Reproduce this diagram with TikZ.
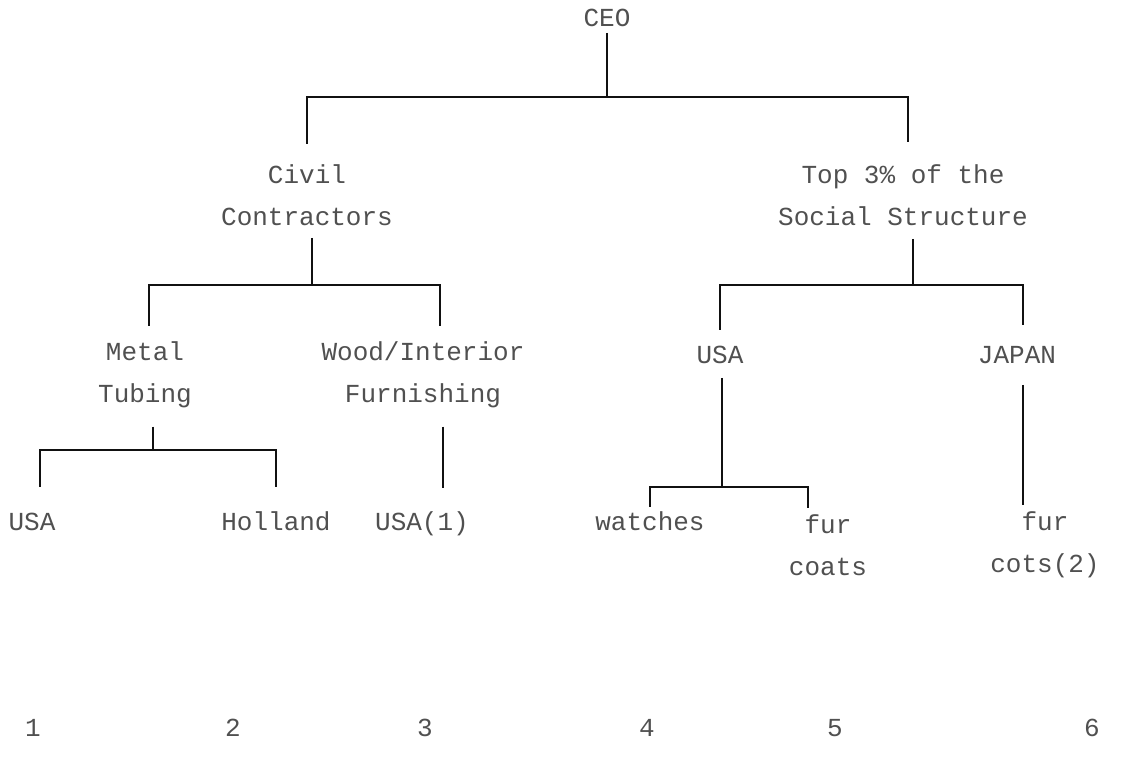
\documentclass[tikz,border=0pt]{standalone}
\usepackage{fontspec}
\usepackage{xcolor}
\usepackage{tikz}
\usetikzlibrary{positioning,calc}
\newfontfamily\chartfont{Liberation Mono}
\definecolor{ocInk}{HTML}{111111}
\definecolor{ocText}{HTML}{505050}
\tikzset{
  % Unit label (plain text, no frame)
  unit/.style={align=center,inner sep=2pt,
    font=\chartfont\fontsize{13}{21}\selectfont,text=ocText},
  % One-line unit, fixed box so rows line up
  unitrow/.style={unit,text height=8.6pt,text depth=0pt},
  % Column number along the bottom
  num/.style={inner sep=2pt,text height=8.6pt,text depth=0pt,
    font=\chartfont\fontsize{13}{21}\selectfont,text=ocText},
  % Connector lines
  wire/.style={draw=ocInk,line width=1pt},
}

\begin{document}
\begin{tikzpicture}[x=0.5pt,y=-0.5pt]
  \useasboundingbox (0,0) rectangle (1148,758);

  % Units
  \node[unitrow] (ceo) at (607,18) {CEO};
  \node[unit] (civil) at (307,195) {Civil\\Contractors};
  \node[unit] (top) at (903,195) {Top 3\% of the\\Social Structure};
  \node[unit] (metal) at (145,375) {Metal\\Tubing};
  \node[unit] (wood) at (423,375) {Wood/Interior\\Furnishing};
  \node[unitrow] (usaB) at (720,355) {USA};
  \node[unitrow] (japan) at (1017,355) {JAPAN};

  % Leaves
  \node[unitrow] (usaA) at (32,522) {USA};
  \node[unitrow] (holland) at (276,522) {Holland};
  \node[unitrow] (usaC) at (422,522) {USA(1)};
  \node[unitrow] (watches) at (650,522) {watches};
  \node[unit] (furcoats) at (828,545) {fur\\coats};
  \node[unit] (furcots) at (1045,545) {fur\\cots(2)};

  % Column numbers
  \foreach \n/\x in {1/33,2/233,3/425,4/647,5/835,6/1092}
    \node[num] (n\n) at (\x,728) {\n};

  % Junctions
  \coordinate (jceo) at (607,97);
  \coordinate (jciv) at (312,285);
  \coordinate (jtop) at (913,285);
  \coordinate (jmet) at (153,450);
  \coordinate (jusa) at (722,487);

  % CEO level
  \draw[wire,shorten <=1pt] (ceo.south) -- (jceo);
  \draw[wire,shorten >=8pt] (jceo) -| (civil.north);
  \draw[wire,shorten >=9pt] (jceo) -| ([xshift=2.5pt]top.north);

  % Civil Contractors
  \draw[wire,shorten <=4pt] (civil.south -| jciv) -- (jciv);
  \draw[wire,shorten >=5.5pt] (jciv) -| ([xshift=2pt]metal.north);
  \draw[wire,shorten >=5.5pt] (jciv) -| ([xshift=8.5pt]wood.north);
  \draw[wire,shorten <=7pt] (metal.south -| jmet) -- (jmet);
  \draw[wire,shorten >=11pt] (jmet) -| ([xshift=4pt]usaA.north);
  \draw[wire,shorten >=11pt] (jmet) -| (holland.north);
  \draw[wire,shorten <=7pt,shorten >=10.5pt]
    ([xshift=10pt]wood.south) -- ([xshift=10.5pt]usaC.north);

  % Top 3% of the Social Structure
  \draw[wire,shorten <=4.5pt] (top.south -| jtop) -- (jtop);
  \draw[wire,shorten >=6pt] (jtop) -| (usaB.north);
  \draw[wire,shorten >=8.5pt] (jtop) -| ([xshift=3pt]japan.north);
  \draw[wire,shorten <=5pt] (usaB.south -| jusa) -- (jusa);
  \draw[wire,shorten >=1pt] (jusa) -| (watches.north);
  \draw[wire,shorten >=1pt] (jusa) -| ([xshift=-10pt]furcoats.north);
  \draw[wire,shorten <=8.5pt,shorten >=1pt]
    ([xshift=3pt]japan.south) -- ([xshift=-11pt]furcots.north);
\end{tikzpicture}
\end{document}
